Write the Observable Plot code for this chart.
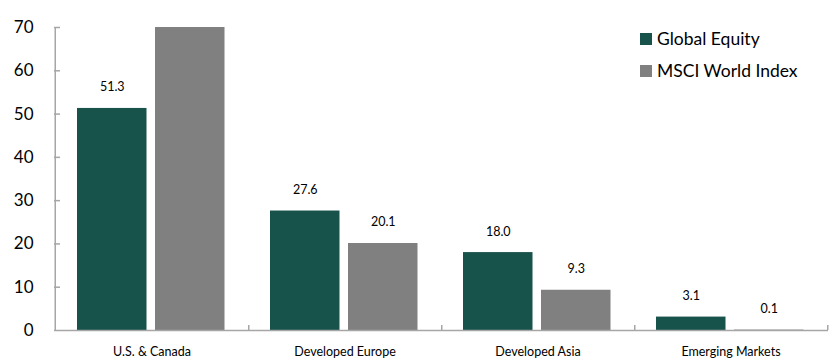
<!DOCTYPE html>
<html>
<head>
<meta charset="utf-8">
<script src="https://cdn.jsdelivr.net/npm/d3@7"></script>
<script src="https://cdn.jsdelivr.net/npm/@observablehq/plot@0.6"></script>
<style>
  body { margin: 0; background: #fff; font-family: Lato, "Open Sans", sans-serif; }
  #wrap { position: relative; width: 837px; height: 360px; }
  #legend { position: absolute; left: 640px; top: 23px; font-size: 17.5px; color: #000; line-height: 32px; }
  #legend .item { display: flex; align-items: center; }
  #legend .sw { width: 12px; height: 12px; margin-right: 5px; display: inline-block; }
</style>
</head>
<body>
<div id="wrap"><div id="legend"></div></div>
<script>
const categories = ["U.S. & Canada", "Developed Europe", "Developed Asia", "Emerging Markets"];
const seriesNames = ["Global Equity", "MSCI World Index"];
const globalEquity = [51.3, 27.6, 18.0, 3.1];
const msciWorld = [70.5, 20.1, 9.3, 0.1];
const yTicks = [0, 10, 20, 30, 40, 50, 60, 70];
const colors = ["#17524b", "#808080"];

const W = 837, H = 360;
const mL = 54, mR = 9, mT = 27, mB = 30;
const band = (W - mL - mR) / categories.length;
const barW = 70, padL = 22, gap = 8;
const yMax = 70;

const data = [];
categories.forEach((c, i) => {
  data.push({category: c, series: seriesNames[0], value: globalEquity[i], k: 0});
  data.push({category: c, series: seriesNames[1], value: msciWorld[i], k: 1});
});

function insets(k) {
  const left = padL + k * (barW + gap);
  return {insetLeft: left, insetRight: band - left - barW};
}
function offset(k) {
  return padL + k * (barW + gap) + barW / 2 - band / 2;
}

const axisColor = "#a6a6a6";
const chart = Plot.plot({
  width: W, height: H,
  marginLeft: mL, marginRight: mR, marginTop: mT, marginBottom: mB,
  style: {fontFamily: "Lato, 'Open Sans', sans-serif", background: "#fff"},
  x: {domain: categories, padding: 0, label: null},
  y: {domain: [0, yMax], label: null},
  marks: [
    Plot.barY(data.filter(d => d.k === 0), {x: "category", y: "value", fill: colors[0], clip: true, ...insets(0)}),
    Plot.barY(data.filter(d => d.k === 1), {x: "category", y: "value", fill: colors[1], clip: true, ...insets(1)}),
    Plot.text(data.filter(d => d.k === 0 && d.value <= yMax), {x: "category", y: "value", text: d => d.value.toFixed(1), dx: offset(0), dy: -21, fontSize: 12.5, fill: "#000"}),
    Plot.text(data.filter(d => d.k === 1 && d.value <= yMax), {x: "category", y: "value", text: d => d.value.toFixed(1), dx: offset(1), dy: -21, fontSize: 12.5, fill: "#000"}),
    Plot.ruleY([0], {stroke: axisColor, strokeWidth: 1.5}),
    Plot.ruleX([categories[0]], {y1: 0, y2: yMax, dx: -band / 2, stroke: axisColor, strokeWidth: 1.5}),
    Plot.ruleX(categories, {y1: 0, y2: 0, dx: band / 2, insetTop: -5, stroke: axisColor, strokeWidth: 1.5}),
    Plot.ruleY(yTicks.slice(1), {insetRight: W - mL - mR - 6, stroke: axisColor, strokeWidth: 1.5}),
    Plot.axisY({ticks: yTicks, tickSize: 0, tickPadding: 21, fontSize: 17, fill: "#000"}),
    Plot.axisX({tickSize: 0, tickPadding: 17, fontSize: 12.5, fill: "#000"})
  ]
});
document.getElementById("wrap").prepend(chart);

const leg = document.getElementById("legend");
seriesNames.forEach((s, i) => {
  const it = document.createElement("div");
  it.className = "item";
  it.innerHTML = `<span class="sw" style="background:${colors[i]}"></span><span>${s}</span>`;
  leg.appendChild(it);
});
</script>
</body>
</html>
